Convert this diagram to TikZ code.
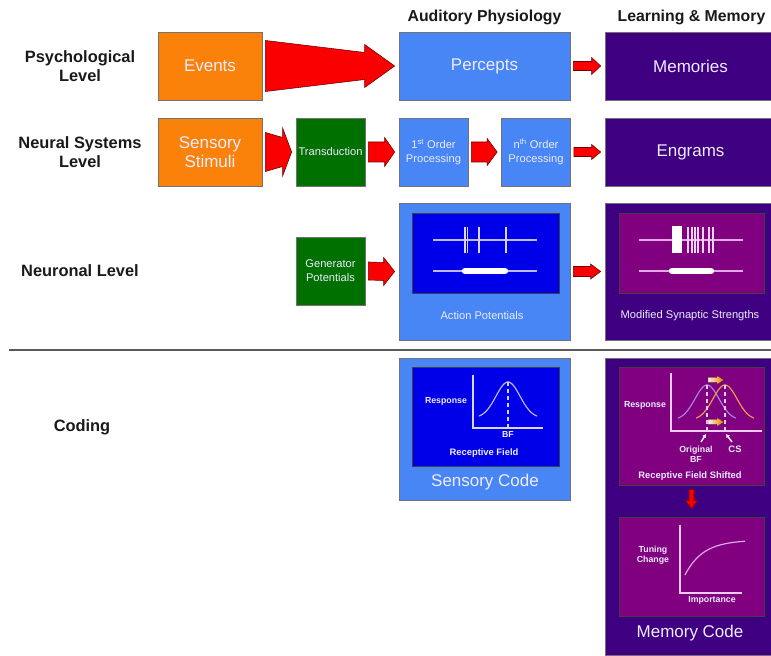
\documentclass[tikz,border=0pt]{standalone}
\usepackage{fontspec}
\setmainfont{Liberation Sans}
\usetikzlibrary{calc,arrows.meta}

\definecolor{evorange}{RGB}{250,130,10}
\definecolor{physblue}{RGB}{72,133,245}
\definecolor{deepblue}{RGB}{0,0,232}
\definecolor{mempurple}{RGB}{62,0,128}
\definecolor{memmagenta}{RGB}{128,0,128}
\definecolor{transgreen}{RGB}{0,112,0}
\definecolor{arrowred}{RGB}{250,0,0}
\definecolor{tracelav}{RGB}{190,185,255}
\definecolor{tracepink}{RGB}{225,170,230}
\definecolor{boxtext}{RGB}{238,236,255}
\definecolor{bfcurve}{RGB}{165,130,230}
\definecolor{cscurve}{RGB}{230,160,70}

\tikzset{
  box/.style={draw=black!55, line width=0.6pt, text=boxtext, align=center, inner sep=0pt},
  bigbox/.style={box, minimum height=2.04cm, font=\fontsize{14.5}{16}\selectfont},
  smallbox/.style={box, minimum width=2.07cm, minimum height=2.04cm, font=\fontsize{9.5}{12}\selectfont},
  panel/.style={box},
  inpanel/.style={draw=black!75, line width=0.6pt, inner sep=0pt},
  levellabel/.style={font=\bfseries\fontsize{14}{16.5}\selectfont, align=center, text=black!90},
  header/.style={font=\bfseries\fontsize{13.5}{16}\selectfont, text=black!90},
  paneltext/.style={text=boxtext, font=\fontsize{9.5}{12}\selectfont},
  bigtext/.style={text=boxtext, font=\fontsize{14.5}{16}\selectfont},
  tinytext/.style={text=boxtext, font=\bfseries\fontsize{7.5}{8.5}\selectfont, align=center, inner sep=0pt},
  redarrow/.style={fill=arrowred, draw=red!45!black, line width=0.5pt},
  trace/.style={line width=1pt},
  spike/.style={line width=1.3pt},
  burst/.style={white, line width=5.5pt, line cap=round},
  curve/.style={line width=1pt},
  pointer/.style={white!85!gray, line width=1.3pt, -{Latex[length=3pt,width=4pt]}},
  shiftarrow/.style={left color=white!85!orange, right color=orange!90!red, draw=black!80, line width=0.4pt}
}

% red block arrow between two nodes: from, to, tail start, tail end, head half width, head length
\newcommand{\blockarrow}[6]{%
  \draw[redarrow] ($(#1.east)+(3,-#3)$) -- ($(#2.west)+(-4-#6,-#4)$)
    -- ($(#2.west)+(-4-#6,-#5)$) -- ($(#2.west)+(-4,0)$) -- ($(#2.west)+(-4-#6,#5)$)
    -- ($(#2.west)+(-4-#6,#4)$) -- ($(#1.east)+(3,#3)$) -- cycle;}

\begin{document}
\begin{tikzpicture}[x=0.03cm, y=-0.03cm]
  \useasboundingbox (0,0) rectangle (771,656);

  %Headers
  \node[header] (hphys) at (484.5,17) {Auditory Physiology};
  \node[header] (hmem) at (691.5,17) {Learning \& Memory};

  %Levels
  \node[levellabel] (lpsy) at (80,66) {Psychological\\Level};
  \node[levellabel] (lsys) at (80,152) {Neural Systems\\Level};
  \node[levellabel] (lneu) at (80,271) {Neuronal Level};
  \node[levellabel] (lcod) at (82,427) {Coding};

  % Psychological level
  \node[bigbox, fill=evorange, minimum width=3.12cm] (events) at (210,66) {Events};
  \node[bigbox, fill=physblue, minimum width=5.13cm] (percepts) at (484.5,66) {Percepts};
  \node[bigbox, fill=mempurple, minimum width=5.13cm] (memories) at (690.5,66) {Memories};

  % Neural systems level
  \node[bigbox, fill=evorange, minimum width=3.12cm] (stimuli) at (210,152) {Sensory\\Stimuli};
  \node[smallbox, fill=transgreen] (transd) at (330.5,152) {Transduction};
  \node[smallbox, fill=physblue] (first) at (433.5,152) {1\textsuperscript{st} Order\\Processing};
  \node[smallbox, fill=physblue] (nth) at (536,152) {n\textsuperscript{th} Order\\Processing};
  \node[bigbox, fill=mempurple, minimum width=5.13cm] (engrams) at (690.5,152) {Engrams};

  % Neuronal level
  \node[smallbox, fill=transgreen] (genpot) at (330.5,271) {Generator\\Potentials};
  \node[panel, fill=physblue, minimum width=5.13cm, minimum height=4.11cm] (actbox) at (484.5,271.5) {};
  \node[inpanel, fill=deepblue, minimum width=4.41cm, minimum height=2.4cm] (actin) at (485.5,253) {};
  \node[paneltext] (actlbl) at (482,316) {Action Potentials};
  \node[panel, fill=mempurple, minimum width=5.13cm, minimum height=4.11cm] (modbox) at (690.5,271.5) {};
  \node[inpanel, fill=memmagenta, minimum width=4.35cm, minimum height=2.4cm] (modin) at (691.5,253) {};
  \node[paneltext] (modlbl) at (690,316) {Modified Synaptic Strengths};

  % spike trains
  \draw[trace, tracelav] (433,240) -- (537,240);
  \foreach \sx in {465,467.5,479,506} \draw[spike, tracelav!60!white] (\sx,227) -- (\sx,253);
  \draw[trace, tracelav] (433,271) -- (537,271);
  \draw[burst] (465,271) -- (505,271);
  \draw[trace, tracepink] (639,240) -- (743,240);
  \fill[white] (672,226) rectangle (682,253);
  \foreach \sx in {688,692,695,698,703,709,713} \draw[spike, tracepink!50!white] (\sx,227) -- (\sx,253);
  \draw[trace, tracepink] (639,271) -- (743,271);
  \draw[burst] (672,271) -- (711,271);

  \draw[gray!70!black, line width=1.6pt] (9,350) -- (771,350);

  % Coding
  \node[panel, fill=physblue, minimum width=5.13cm, minimum height=4.26cm] (sensbox) at (484.5,429) {};
  \node[inpanel, fill=deepblue, minimum width=4.41cm, minimum height=2.97cm] (sensin) at (485.5,416.5) {};
  \node[bigtext] (senslbl) at (485,482) {Sensory Code};
  \draw[curve, tracelav!60!white] (473,375) -- (473,428) -- (543,428);
  \draw[curve, tracelav] plot[domain=479:537, samples=40] (\x,{418-36*exp(-(\x-508)^2/288)});
  \draw[curve, tracelav!60!white, dashed] (508,382) -- (508,428);
  \node[tinytext] at (446,401) {Response};
  \node[tinytext] at (508,434) {BF};
  \node[tinytext, font=\bfseries\fontsize{8}{8}\selectfont] at (484,453) {Receptive Field};

  \node[panel, fill=mempurple, minimum width=5.13cm, minimum height=8.91cm] (membox) at (690.5,506.5) {};
  \node[inpanel, fill=memmagenta, minimum width=4.35cm, minimum height=3.54cm] (mcA) at (691.5,426) {};
  \node[inpanel, fill=memmagenta, minimum width=4.35cm, minimum height=2.97cm] (mcB) at (691.5,566.5) {};
  \node[bigtext] (memlbl) at (690,633) {Memory Code};

  % receptive field shift
  \draw[curve, tracepink!60!white] (671,373) -- (671,431) -- (762,431);
  \draw[curve, bfcurve] plot[domain=678:736, samples=40] (\x,{420-35*exp(-(\x-707)^2/288)});
  \draw[curve, cscurve] plot[domain=696:754, samples=40] (\x,{420-35*exp(-(\x-725)^2/288)});
  \draw[curve, tracepink!60!white, dashed] (707,385) -- (707,431);
  \draw[curve, tracepink!60!white, dashed] (725,385) -- (725,431);
  \foreach \sy in {380,422}
    \draw[shiftarrow] (708,\sy-2.5) -- (717,\sy-2.5) -- (717,\sy-4.5) -- (724,\sy) -- (717,\sy+4.5) -- (717,\sy+2.5) -- (708,\sy+2.5) -- cycle;
  \draw[pointer] (701,442) -- (706,434);
  \draw[pointer] (732,442) -- (726,434);
  \node[tinytext] at (645,405) {Response};
  \node[tinytext] at (696,454) {Original\\BF};
  \node[tinytext, font=\bfseries\fontsize{8}{8}\selectfont] at (735,449) {CS};
  \node[tinytext, font=\bfseries\fontsize{8}{8}\selectfont] at (690,476) {Receptive Field Shifted};

  % tuning change
  \draw[curve, tracepink!60!white] (680,525) -- (680,593) -- (742,593);
  \draw[curve, tracepink] plot[domain=685:745, samples=40] (\x,{575-35*(1-exp(-(\x-685)/18))});
  \node[tinytext] at (653,555) {Tuning\\Change};
  \node[tinytext] at (712,600) {Importance};

  % Arrows
  \blockarrow{events}{percepts}{25.5}{13.5}{21.5}{30}
  \blockarrow{percepts}{memories}{4.5}{4.5}{8.5}{9}
  \blockarrow{stimuli}{transd}{19.5}{14.5}{24}{9}
  \blockarrow{transd}{first}{10}{10}{14.5}{10}
  \blockarrow{first}{nth}{10}{10}{13.5}{10}
  \blockarrow{nth}{engrams}{4.5}{4.5}{7.5}{9}
  \blockarrow{genpot}{actbox}{9}{9}{14}{11}
  \blockarrow{actbox}{modbox}{5}{5}{7.5}{10}
  \draw[redarrow] ($(mcA.south)+(-2.5,4)$) -- ($(mcB.north)+(-2.5,-16)$) -- ($(mcB.north)+(-6,-16)$)
    -- ($(mcB.north)+(0,-8)$) -- ($(mcB.north)+(6,-16)$) -- ($(mcB.north)+(2.5,-16)$) -- ($(mcA.south)+(2.5,4)$) -- cycle;
\end{tikzpicture}
\end{document}
